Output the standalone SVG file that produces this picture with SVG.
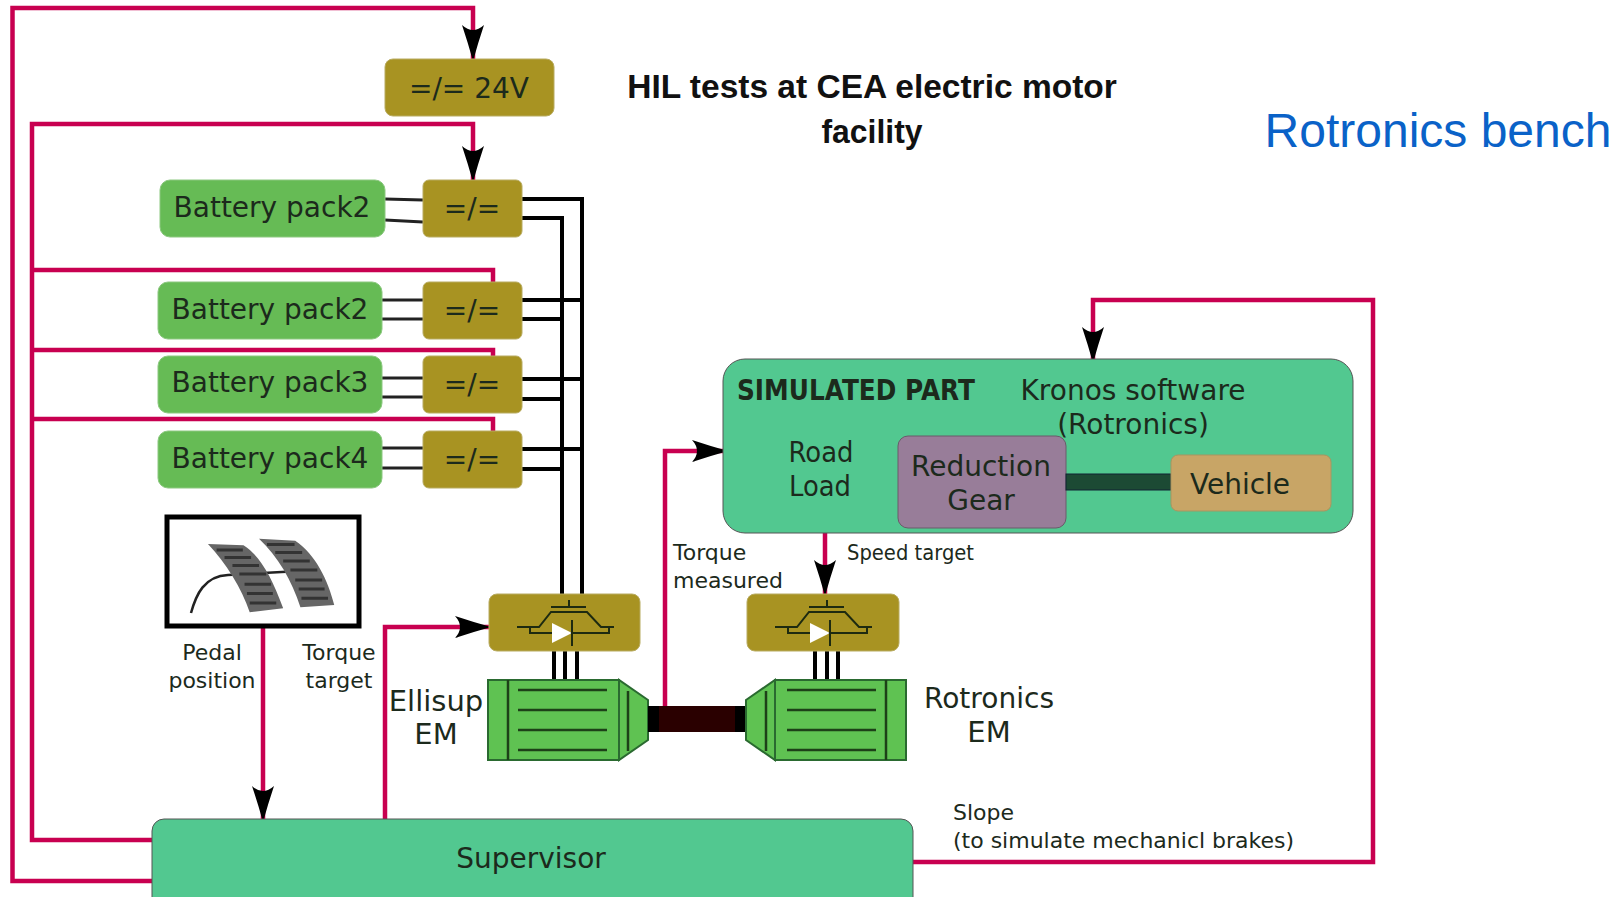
<svg xmlns="http://www.w3.org/2000/svg" xmlns:xlink="http://www.w3.org/1999/xlink" width="1624" height="897" viewBox="0 0 1624 897">
<style>
text{font-family:"DejaVu Sans",sans-serif;fill:#1c2a1c;text-anchor:middle}
.m{font-size:28px}.s{font-size:22px}.l{font-size:29px}
.conv{fill:#a89322;stroke:#b8ab60;stroke-width:1}
.bat{fill:#66bb55;stroke:#8cc880;stroke-width:1}
.team{fill:#52c890;stroke:#555;stroke-width:1}
.red{fill:none;stroke:#c80050;stroke-width:4.5}
.blk{fill:none;stroke:#000;stroke-width:4}
.wire{fill:none;stroke:#222;stroke-width:3}
.thin{fill:none;stroke:#1d2a10;stroke-width:2}
.mot{fill:#5fc252;stroke:#2a6a30;stroke-width:2}
.stripe{fill:none;stroke:#1d4018;stroke-width:2.500}
</style>
<defs>
<marker id="arr" markerUnits="userSpaceOnUse" markerWidth="40" markerHeight="28" refX="34" refY="14" orient="auto"><path d="M0,3 Q18,9 36,14 Q18,19 0,25 Q10,14 0,3z" fill="#000"/></marker>
<g id="igbt"><path class="thin" d="M80,6V13M62,13H97M28,33H50L62,18H98L112,33H125M41,33V39H120V33"/><path d="M63,29V49L83,39z" fill="#fff"/><path class="thin" d="M83,26V52"/></g>
<g id="motor">
<path d="M648,706H746V732H648z" fill="#2a0000"/><path d="M648,706H659V732H648zM735,706H746V732H735z" fill="#000"/>
<path class="mot" d="M746,700L775,680V760L746,740z"/><rect class="mot" x="775" y="680" width="131" height="80"/>
<path class="stripe" d="M766,691V751M886,680V760M787,690H876M787,710H876M787,730H876M787,750H876"/>
</g>
</defs>
<g id="connectors">
<path class="red" d="M152,881H12.500V8H473V59" marker-end="url(#arr)"/>
<path class="red" d="M152,840H32V124H473V180" marker-end="url(#arr)"/>
<path class="red" d="M32,270H493V282M32,350H493V358M32,419H493V431"/>
<path class="red" d="M263,627V820" marker-end="url(#arr)"/>
<path class="red" d="M385,820V627H489" marker-end="url(#arr)"/>
<path class="red" d="M665,706V451H726" marker-end="url(#arr)"/>
<path class="red" d="M825,533V594" marker-end="url(#arr)"/>
<path class="red" d="M913,862H1373V300H1093V361" marker-end="url(#arr)"/>
<path class="blk" d="M522,199H582V594M522,218H562V594M522,300H582M522,319H562M522,379H582M522,399H562M522,449H582M522,469H562"/>
<path class="wire" d="M385,199L423,200M385,220L423,222M382,300H423M382,319H423M382,378H423M382,397H423M382,448H423M382,468H423"/>
<path class="blk" d="M554,651V681M565,651V681M577,651V681M815,651V680M827,651V680M838,651V680"/>
</g>
<g id="dc24"><rect class="conv" x="385" y="59" width="169" height="57" rx="8"/><text class="m" x="469" y="98">=/= 24V</text></g>
<g id="pack1"><rect class="bat" x="160" y="180" width="225" height="57" rx="10"/><text class="m" x="272" y="217">Battery pack2</text></g>
<g id="conv1"><rect class="conv" x="423" y="180" width="99" height="57" rx="6"/><text class="m" x="472" y="218">=/=</text></g>
<g id="pack2"><rect class="bat" x="158" y="282" width="224" height="57" rx="10"/><text class="m" x="270" y="319">Battery pack2</text></g>
<g id="conv2"><rect class="conv" x="423" y="282" width="99" height="57" rx="6"/><text class="m" x="472" y="320">=/=</text></g>
<g id="pack3"><rect class="bat" x="158" y="356" width="224" height="57" rx="10"/><text class="m" x="270" y="392">Battery pack3</text></g>
<g id="conv3"><rect class="conv" x="423" y="356" width="99" height="57" rx="6"/><text class="m" x="472" y="394">=/=</text></g>
<g id="pack4"><rect class="bat" x="158" y="431" width="224" height="57" rx="10"/><text class="m" x="270" y="468">Battery pack4</text></g>
<g id="conv4"><rect class="conv" x="423" y="431" width="99" height="57" rx="6"/><text class="m" x="472" y="469">=/=</text></g>
<g id="pedal">
<rect x="167" y="517" width="192" height="109" fill="#fff" stroke="#000" stroke-width="5"/>
<path d="M191,613C196,595 204,576 228,575L300,571" fill="none" stroke="#222" stroke-width="2.500"/>
<g transform="translate(140,500) scale(.345,.333)">
<path fill="#666" d="M197,132L300,136C345,165 380,225 415,325L318,337C295,265 250,190 197,132z"/>
<path fill="#666" d="M345,116L450,122C510,165 545,240 563,315L465,322C440,240 400,170 345,116z"/>
<path stroke="#333" stroke-width="9" fill="none" d="M222,150H298M245,173H322M268,197H345M288,222H366M303,253H380M310,281H385M318,309H395M368,134H448M392,158H470M415,183H492M436,210H514M450,240H528M460,267H535M468,295H545"/>
</g>
</g>
<g id="inv1"><rect class="conv" x="489" y="594" width="151" height="57" rx="8"/><use href="#igbt" x="489" y="594"/></g>
<g id="inv2"><rect class="conv" x="747" y="594" width="152" height="57" rx="8"/><use href="#igbt" x="747" y="594"/></g>
<g id="motor1"><use href="#motor" transform="translate(1394,0) scale(-1,1)"/></g>
<g id="motor2"><use href="#motor"/></g>
<g id="supervisor"><rect class="team" x="152" y="819" width="761" height="100" rx="12"/><text class="m" x="531" y="868">Supervisor</text></g>
<g id="sim"><rect class="team" x="723" y="359" width="630" height="174" rx="22"/>
<text class="m" x="856" y="400" textLength="238" lengthAdjust="spacingAndGlyphs" style="font-weight:bold">SIMULATED PART</text>
<text class="m" x="1133" y="400">Kronos software</text><text class="m" x="1133" y="434">(Rotronics)</text>
<text class="m" x="821" y="462" textLength="65" lengthAdjust="spacingAndGlyphs">Road</text><text class="m" x="820" y="496" textLength="62" lengthAdjust="spacingAndGlyphs">Load</text></g>
<g id="gear"><rect x="898" y="436" width="168" height="92" rx="10" fill="#987d99" stroke="#6a5a6a"/><text class="m" x="981" y="476">Reduction</text><text class="m" x="981" y="510">Gear</text></g>
<g id="shaft"><rect x="1066" y="474" width="105" height="16" fill="#1c4a34" stroke="#123" stroke-width="1"/></g>
<g id="vehicle"><rect x="1171" y="455" width="160" height="56" rx="7" fill="#c8a566" stroke="#a89560"/><text class="m" x="1240" y="494">Vehicle</text></g>
<g id="labels">
<text x="872" y="98" style="font-family:'Liberation Sans',sans-serif;font-size:33.500px;font-weight:bold;fill:#111">HIL tests at CEA electric motor</text>
<text x="872" y="143" textLength="101" lengthAdjust="spacingAndGlyphs" style="font-family:'Liberation Sans',sans-serif;font-size:33.500px;font-weight:bold;fill:#111">facility</text>
<text x="1438" y="147" style="font-family:'Liberation Sans',sans-serif;font-size:48px;fill:#0a62c8">Rotronics bench</text>
<text class="s" x="212" y="660">Pedal</text><text class="s" x="212" y="688">position</text>
<text class="s" x="339" y="660">Torque</text><text class="s" x="339" y="688">target</text>
<text class="l" x="436" y="711">Ellisup</text><text class="l" x="436" y="744">EM</text>
<text class="l" x="989" y="708" textLength="130" lengthAdjust="spacingAndGlyphs">Rotronics</text><text class="l" x="989" y="742">EM</text>
<text class="s" x="673" y="560" style="text-anchor:start">Torque</text><text class="s" x="673" y="588" style="text-anchor:start">measured</text>
<text class="s" x="847" y="560" textLength="127" lengthAdjust="spacingAndGlyphs" style="text-anchor:start">Speed target</text>
<text class="s" x="953" y="820" style="text-anchor:start">Slope</text>
<text class="s" x="953" y="848" style="text-anchor:start">(to simulate mechanicl brakes)</text>
</g>
</svg>
